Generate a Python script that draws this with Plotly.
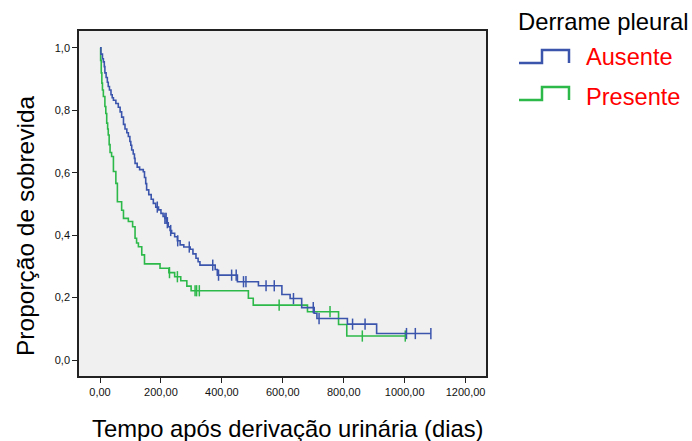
import plotly.graph_objects as go

# Kaplan-Meier estimates: event times (days) and survival after each event
ausente_t = [0, 3, 8, 11, 14, 16, 20, 24, 27, 31, 36, 40, 44, 52, 60, 66, 71, 77, 82, 88,
             93, 98, 101, 104, 109, 113, 115, 122, 130, 142, 146, 150, 153, 160, 168, 175,
             183, 192, 200, 207, 213, 220, 224, 230, 235, 245, 254, 263, 275, 296, 305, 315,
             322, 328, 378, 385, 451, 520, 597, 624, 662, 703, 712, 812, 908]
ausente_s = [1.0, 0.98, 0.965, 0.955, 0.94, 0.92, 0.905, 0.89, 0.876, 0.865, 0.85, 0.84,
             0.832, 0.822, 0.81, 0.795, 0.778, 0.755, 0.74, 0.728, 0.716, 0.70, 0.688, 0.673,
             0.66, 0.646, 0.63, 0.618, 0.61, 0.603, 0.585, 0.565, 0.545, 0.53, 0.515, 0.502,
             0.49, 0.481, 0.47, 0.46, 0.454, 0.44, 0.427, 0.415, 0.406, 0.395, 0.382, 0.369,
             0.362, 0.355, 0.34, 0.326, 0.315, 0.304, 0.29, 0.272, 0.251, 0.238, 0.21, 0.197,
             0.168, 0.15, 0.133, 0.115, 0.085]
ausente_end = 1086
ausente_cens = [188, 213, 217, 221, 232, 255, 293, 370, 389, 432, 447, 471, 479, 545, 572,
                635, 700, 719, 829, 870, 1006, 1035, 1086]

presente_t = [0, 2, 4, 6, 8, 11, 16, 19, 22, 25, 27, 30, 33, 38, 44, 52, 57, 71, 77, 93,
              107, 115, 120, 126, 137, 146, 197, 226, 245, 265, 285, 299, 487, 503, 681,
              783, 810]
presente_s = [1.0, 0.96, 0.92, 0.887, 0.865, 0.844, 0.812, 0.79, 0.759, 0.74, 0.721, 0.69,
              0.665, 0.652, 0.604, 0.566, 0.507, 0.48, 0.454, 0.444, 0.427, 0.39, 0.375,
              0.363, 0.337, 0.308, 0.294, 0.28, 0.267, 0.254, 0.237, 0.222, 0.198, 0.176,
              0.155, 0.114, 0.077]
presente_end = 1002
presente_cens = [228, 254, 312, 317, 326, 588, 755, 861, 1002]

x_ticks = [0, 200, 400, 600, 800, 1000, 1200]
y_ticks = [0.0, 0.2, 0.4, 0.6, 0.8, 1.0]

BLUE = "#3b55ad"
GREEN = "#2db84a"


def surv_at(times, surv, t):
    s = surv[0]
    for ti, si in zip(times, surv):
        if ti <= t:
            s = si
    return s


fig = go.Figure()
for times, surv, end, cens, color in [
    (presente_t, presente_s, presente_end, presente_cens, GREEN),
    (ausente_t, ausente_s, ausente_end, ausente_cens, BLUE),
]:
    fig.add_trace(go.Scatter(
        x=times + [end], y=surv + [surv[-1]], mode="lines",
        line=dict(color=color, width=1.6, shape="hv"),
        showlegend=False, hoverinfo="skip"))
    fig.add_trace(go.Scatter(
        x=cens, y=[surv_at(times, surv, c) for c in cens], mode="markers",
        marker=dict(symbol="line-ns", size=8, line=dict(color=color, width=1.5)),
        showlegend=False, hoverinfo="skip"))

# plot area in pixels
L, R, T, B = 79, 486, 31, 376


def px(x):
    return (x - L) / (R - L)


def py(y):
    return (B - y) / (B - T)


def step_icon(y_low, y_high, color):
    pts = [(519, y_low), (542, y_low), (542, y_high), (569, y_high), (569, y_low)]
    path = "M " + " L ".join(f"{px(a):.5f},{py(b):.5f}" for a, b in pts)
    return dict(type="path", xref="paper", yref="paper", path=path,
                line=dict(color=color, width=2.5))


def label(text, x, y, size, color="black", angle=0, xanchor="left"):
    return dict(text=text, xref="paper", yref="paper", x=px(x), y=py(y),
                xanchor=xanchor, yanchor="middle", showarrow=False, textangle=angle,
                font=dict(size=size, color=color))


fig.update_layout(
    width=692, height=441,
    margin=dict(l=L, r=692 - R, t=T, b=441 - B),
    paper_bgcolor="white", plot_bgcolor="#f0f0f0",
    separators=",.",
    font=dict(family="Liberation Sans, Arial, sans-serif", color="#111"),
    shapes=[step_icon(63, 50, BLUE), step_icon(100, 87, GREEN)],
    annotations=[
        label("Derrame pleural", 516, 21, 23.8),
        label("Ausente", 584, 57, 23.6, "#ff0000"),
        label("Presente", 584, 97, 23.6, "#ff0000"),
        label("Tempo após derivação urinária (dias)", 287.5, 428, 23.8, xanchor="center"),
        label("Proporção de sobrevida", 25, 226, 24.5, angle=-90, xanchor="center"),
    ],
)
fig.update_xaxes(
    range=[-69, 1267], tickvals=x_ticks, tickformat=".2f", automargin=False,
    ticks="outside", ticklen=5, tickcolor="#222", tickfont=dict(size=11),
    showline=True, linecolor="#222", linewidth=1.5, mirror=True,
    showgrid=False, zeroline=False)
fig.update_yaxes(
    range=[-0.051, 1.054], tickvals=y_ticks, tickformat=".1f", automargin=False,
    ticks="outside", ticklen=5, tickcolor="#222", tickfont=dict(size=11),
    showline=True, linecolor="#222", linewidth=1.5, mirror=True,
    showgrid=False, zeroline=False)

fig.write_html("out.html")
